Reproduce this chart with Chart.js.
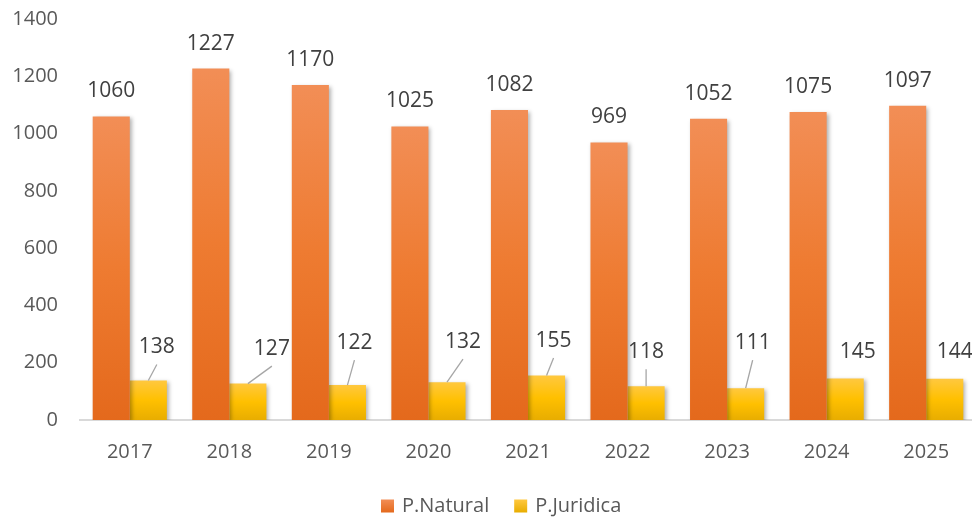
<!DOCTYPE html>
<html>
<head>
<meta charset="utf-8">
<script src="https://cdn.jsdelivr.net/npm/chart.js@4.4.1/dist/chart.umd.min.js"></script>
<style>
  html, body { margin: 0; padding: 0; background: #ffffff; overflow: hidden; }
  #wrap { width: 1006px; height: 518px; position: relative; overflow: hidden; }
  #c { position: absolute; left: 0; top: -15px; }
</style>
</head>
<body>
<div id="wrap"><canvas id="c" width="1006" height="533"></canvas></div>
<script>
// ---- data ----
const years = ['2017', '2018', '2019', '2020', '2021', '2022', '2023', '2024', '2025'];
const natural = [1060, 1227, 1170, 1025, 1082, 969, 1052, 1075, 1097];
const juridica = [138, 127, 122, 132, 155, 118, 111, 145, 144];
const seriesNames = ['P.Natural', 'P.Juridica'];
const yMin = 0, yMax = 1400, yStep = 200;

// ---- label placement (style) for P.Juridica callouts: [dx, dy, leader] ----
const juridicaLabelPlacement = [
  [8.5, -33, true], [24, -34.5, true], [7, -42, true], [16, -40, true], [7, -34.5, true],
  [0, -34, true], [7, -45, true], [12.5, -26.4, false], [10, -27, false]
];

const FONT = "'Open Sans', 'Liberation Sans', sans-serif";
const AXIS_COLOR = '#595959';
const LABEL_COLOR = '#404040';

const palettes = {
  natural: ['#F28E56', '#EE7B31', '#E4691C'],
  juridica: ['#FFC83F', '#FFC000', '#E8AD00']
};

function gradientFill(pal) {
  return function (c) {
    const chart = c.chart;
    const y = chart.scales && chart.scales.y;
    if (!y || c.type !== 'data') return pal[1];
    const top = y.getPixelForValue(c.raw);
    const base = y.getPixelForValue(0);
    if (!isFinite(top) || !isFinite(base) || base - top < 1) return pal[1];
    const g = chart.ctx.createLinearGradient(0, top, 0, base);
    g.addColorStop(0, pal[0]);
    g.addColorStop(0.5, pal[1]);
    g.addColorStop(1, pal[2]);
    return g;
  };
}

const shadowPlugin = {
  id: 'barShadow',
  beforeDatasetsDraw(chart) {
    const ctx = chart.ctx;
    ctx.save();
    ctx.shadowColor = 'rgba(0,0,0,0.30)';
    ctx.shadowBlur = 4;
    ctx.shadowOffsetX = 2;
    ctx.shadowOffsetY = 2;
  },
  afterDatasetsDraw(chart) {
    chart.ctx.restore();
  }
};

const labelPlugin = {
  id: 'valueLabels',
  afterDatasetsDraw(chart) {
    const ctx = chart.ctx;
    ctx.save();
    ctx.font = '21px ' + FONT;
    ctx.fillStyle = LABEL_COLOR;
    ctx.textAlign = 'center';
    ctx.textBaseline = 'middle';
    chart.getDatasetMeta(0).data.forEach((bar, i) => {
      ctx.fillText(String(natural[i]), bar.x, bar.y - 25);
    });
    chart.getDatasetMeta(1).data.forEach((bar, i) => {
      const p = juridicaLabelPlacement[i];
      const lx = bar.x + p[0];
      const ly = bar.y + p[1];
      if (p[2]) {
        ctx.strokeStyle = '#a6a6a6';
        ctx.lineWidth = 1.3;
        ctx.beginPath();
        ctx.moveTo(lx, ly + 17);
        ctx.lineTo(bar.x, bar.y);
        ctx.stroke();
      }
      ctx.fillText(String(juridica[i]), lx, ly);
    });
    ctx.restore();
  }
};

// custom legend drawn below the x axis
const legendPlugin = {
  id: 'bottomLegend',
  afterDraw(chart) {
    const ctx = chart.ctx;
    ctx.save();
    ctx.font = '20px ' + FONT;
    ctx.textBaseline = 'middle';
    ctx.textAlign = 'left';
    const cy = chart.chartArea.bottom + 86;
    let x = 381;
    [palettes.natural, palettes.juridica].forEach((pal, i) => {
      const g = ctx.createLinearGradient(0, cy - 6.5, 0, cy + 6.5);
      g.addColorStop(0, pal[0]);
      g.addColorStop(1, pal[2]);
      ctx.fillStyle = g;
      ctx.fillRect(x, cy - 6.5, 13, 13);
      ctx.fillStyle = AXIS_COLOR;
      ctx.fillText(seriesNames[i], x + 21, cy);
      x += 21 + ctx.measureText(seriesNames[i]).width + 25;
    });
    ctx.restore();
  }
};

new Chart(document.getElementById('c'), {
  type: 'bar',
  data: {
    labels: years,
    datasets: [
      { label: seriesNames[0], data: natural, backgroundColor: gradientFill(palettes.natural), borderWidth: 0 },
      { label: seriesNames[1], data: juridica, backgroundColor: gradientFill(palettes.juridica), borderWidth: 0 }
    ]
  },
  options: {
    responsive: false,
    animation: false,
    devicePixelRatio: 1,
    layout: { padding: { top: 0, right: 30, bottom: 34, left: 0 } },
    datasets: { bar: { barPercentage: 1.0, categoryPercentage: 0.745 } },
    scales: {
      x: {
        grid: { display: false, drawTicks: false },
        border: { display: true, color: '#d9d9d9', width: 2 },
        ticks: { color: AXIS_COLOR, font: { family: FONT, size: 20 }, padding: 20 }
      },
      y: {
        min: yMin, max: yMax,
        grid: { display: false, drawTicks: false },
        border: { display: false },
        ticks: {
          stepSize: yStep, color: AXIS_COLOR, font: { family: FONT, size: 20 }, padding: 22,
          callback: (v) => String(v)
        },
        afterFit(scale) { scale.width = 80; }
      }
    },
    plugins: {
      tooltip: { enabled: false },
      legend: { display: false }
    }
  },
  plugins: [shadowPlugin, labelPlugin, legendPlugin]
});
</script>
</body>
</html>
